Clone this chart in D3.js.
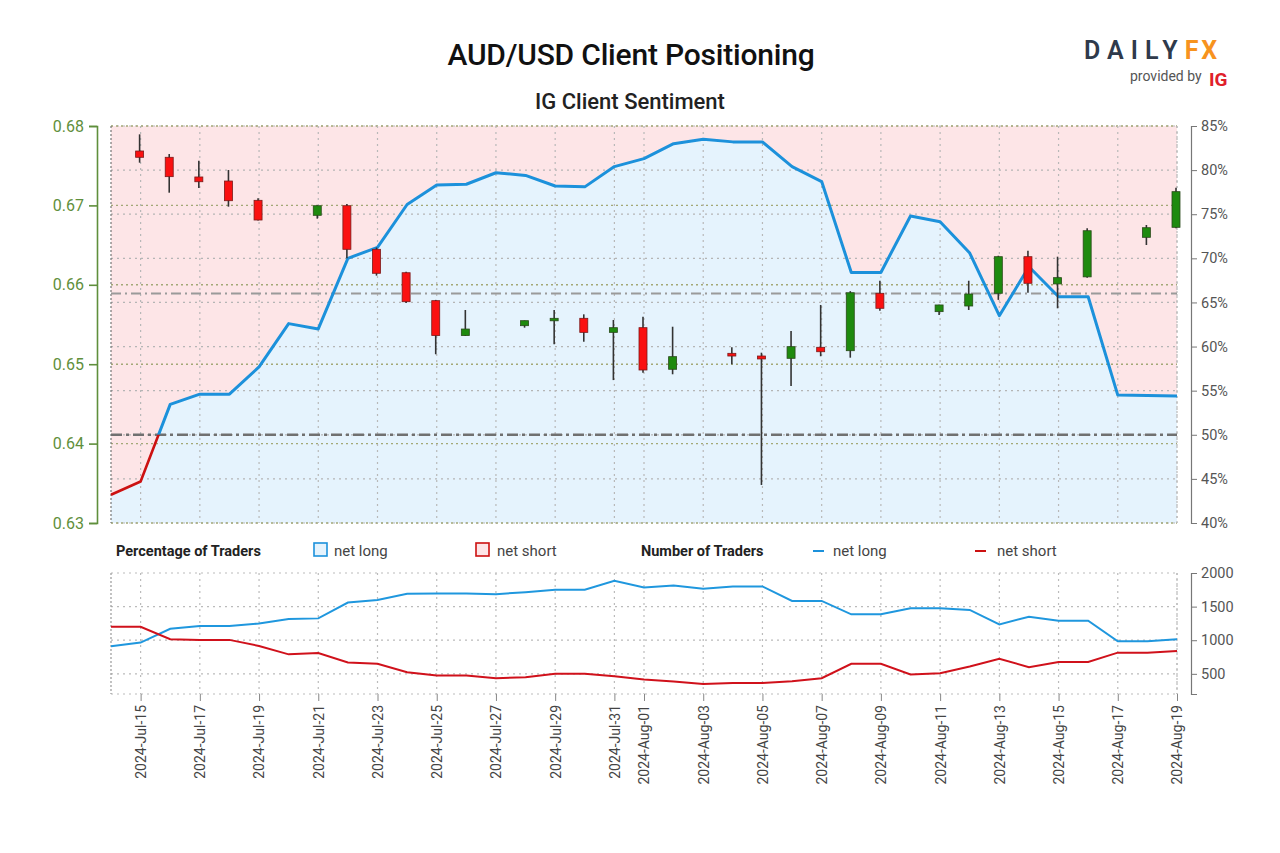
<!DOCTYPE html>
<html><head><meta charset="utf-8">
<script src="https://cdn.jsdelivr.net/npm/d3@7"></script>
<style>
html,body{margin:0;padding:0;background:#fff;}
svg{display:block;font-family:Roboto,"Open Sans",sans-serif;}
</style></head>
<body>
<svg id="chart" width="1280" height="853"></svg>
<script>
// ---------- DATA ----------
const sentimentDates = ["2024-07-14","2024-07-15","2024-07-16","2024-07-17","2024-07-18","2024-07-19","2024-07-20","2024-07-21","2024-07-22","2024-07-23","2024-07-24","2024-07-25","2024-07-26","2024-07-27","2024-07-28","2024-07-29","2024-07-30","2024-07-31","2024-08-01","2024-08-02","2024-08-03","2024-08-04","2024-08-05","2024-08-06","2024-08-07","2024-08-08","2024-08-09","2024-08-10","2024-08-11","2024-08-12","2024-08-13","2024-08-14","2024-08-15","2024-08-16","2024-08-17","2024-08-18","2024-08-19"];
const netLongPct = [43.2,44.7,53.45,54.6,54.6,57.7,62.6,62.0,70.0,71.25,76.1,78.3,78.4,79.7,79.4,78.2,78.1,80.4,81.3,83.0,83.5,83.2,83.2,80.4,78.7,68.4,68.4,74.8,74.15,70.6,63.5,69.05,65.65,65.65,54.5,54.45,54.4];
const netLongCount = [910,965,1170,1210,1210,1250,1315,1325,1560,1600,1690,1695,1695,1685,1715,1750,1750,1885,1785,1815,1765,1800,1800,1585,1585,1385,1385,1475,1475,1450,1235,1350,1290,1290,985,985,1015];
const netShortCount = [1200,1200,1015,1005,1005,915,790,810,670,650,525,475,475,435,450,500,500,465,415,385,350,365,365,390,435,650,650,490,510,610,725,600,675,675,815,815,840];

const candleDates = ["2024-07-15","2024-07-16","2024-07-17","2024-07-18","2024-07-19","2024-07-21","2024-07-22","2024-07-23","2024-07-24","2024-07-25","2024-07-26","2024-07-28","2024-07-29","2024-07-30","2024-07-31","2024-08-01","2024-08-02","2024-08-04","2024-08-05","2024-08-06","2024-08-07","2024-08-08","2024-08-09","2024-08-11","2024-08-12","2024-08-13","2024-08-14","2024-08-15","2024-08-16","2024-08-18","2024-08-19"];
const candleOpen  = [0.67685,0.67606,0.67358,0.67307,0.67064,0.66875,0.66996,0.66447,0.66152,0.65800,0.65361,0.65485,0.65548,0.65578,0.65401,0.65460,0.64936,0.65137,0.65103,0.65074,0.65213,0.65170,0.65893,0.65662,0.65733,0.65893,0.66354,0.66011,0.66100,0.66598,0.66724];
const candleHigh  = [0.67895,0.67647,0.67563,0.67446,0.67089,0.67000,0.67018,0.66470,0.66165,0.65810,0.65683,0.65550,0.65683,0.65628,0.65557,0.65598,0.65472,0.65213,0.65145,0.65418,0.65746,0.65920,0.66051,0.65750,0.66051,0.66366,0.66430,0.66354,0.66712,0.66753,0.67223];
const candleLow   = [0.67538,0.67160,0.67219,0.66984,0.66810,0.66833,0.66334,0.66115,0.65770,0.65125,0.65355,0.65460,0.65251,0.65283,0.64800,0.64893,0.64873,0.65000,0.63479,0.64725,0.65100,0.65082,0.65674,0.65620,0.65683,0.65810,0.65900,0.65704,0.66090,0.66501,0.66712];
const candleClose = [0.67606,0.67362,0.67298,0.67059,0.66816,0.66996,0.66447,0.66145,0.65787,0.65361,0.65443,0.65548,0.65578,0.65401,0.65460,0.64927,0.65095,0.65103,0.65066,0.65221,0.65157,0.65900,0.65704,0.65746,0.65884,0.66354,0.66019,0.66090,0.66681,0.66719,0.67173];

const priceTicks = [0.63,0.64,0.65,0.66,0.67,0.68];
const pctTicks = [40,45,50,55,60,65,70,75,80,85];
const countTicks = [500,1000,1500,2000];
const dateTicks = ["2024-07-15","2024-07-17","2024-07-19","2024-07-21","2024-07-23","2024-07-25","2024-07-27","2024-07-29","2024-07-31","2024-08-01","2024-08-03","2024-08-05","2024-08-07","2024-08-09","2024-08-11","2024-08-13","2024-08-15","2024-08-17","2024-08-19"];
const refPrice = 0.6589;   // light dash-dot reference
const neutralPct = 50;     // dark dash-dot line

// ---------- SETUP ----------
const parse = d3.utcParse("%Y-%m-%d");
const fmtDate = d3.utcFormat("%Y-%b-%d");
const svg = d3.select("#chart");

const L = 111, R = 1177, T = 126, B = 523;
const T2 = 573, B2 = 694;
const AXR = 1191;

const x = d3.scaleUtc().domain([parse("2024-07-14"), parse("2024-08-19")]).range([L, R]);
const yP = d3.scaleLinear().domain([0.63, 0.68]).range([B, T]);
const yPct = d3.scaleLinear().domain([40, 85]).range([B, T]);
const yN = d3.scaleLinear().domain([200, 2000]).range([B2, T2]);

const sent = sentimentDates.map((d,i)=>({date:parse(d), pct:netLongPct[i], nl:netLongCount[i], ns:netShortCount[i]}));
const candles = candleDates.map((d,i)=>({date:parse(d), o:candleOpen[i], h:candleHigh[i], l:candleLow[i], c:candleClose[i]}));

// ---------- TITLES ----------
svg.append("text").attr("x",631).attr("y",65).attr("text-anchor","middle")
  .attr("font-size",30).attr("font-weight",500).attr("fill","#111").attr("letter-spacing","-0.2")
  .text("AUD/USD Client Positioning");
svg.append("text").attr("x",630).attr("y",109).attr("text-anchor","middle")
  .attr("font-size",22).attr("font-weight",500).attr("fill","#222")
  .text("IG Client Sentiment");

// Logo
const logo = svg.append("g");
logo.append("text").attr("x",1084).attr("y",59).attr("font-size",25).attr("font-weight",600)
  .attr("letter-spacing","7").attr("fill","#2f3a4b").text("DAILY")
  .append("tspan").attr("fill","#f7931e").attr("font-weight",700).attr("letter-spacing","3").text("FX");
logo.append("text").attr("x",1130).attr("y",81).attr("font-size",14).attr("fill","#555").text("provided by");
logo.append("text").attr("x",1209).attr("y",86).attr("font-size",19).attr("font-weight",700).attr("fill","#e0202a").text("IG");

// ---------- MAIN PANEL ----------
const defs = svg.append("defs");
defs.append("clipPath").attr("id","clipMain").append("rect").attr("x",L).attr("y",T).attr("width",R-L).attr("height",B-T);
defs.append("clipPath").attr("id","clipAbove").append("rect").attr("x",L-5).attr("y",T-5).attr("width",R-L+10).attr("height",yPct(neutralPct)-T+5);
defs.append("clipPath").attr("id","clipBelow").append("rect").attr("x",L-5).attr("y",yPct(neutralPct)).attr("width",R-L+10).attr("height",B-yPct(neutralPct)+5);

const main = svg.append("g");
main.append("rect").attr("x",L).attr("y",T).attr("width",R-L).attr("height",B-T).attr("fill","#fde5e7");
main.append("path").datum(sent)
  .attr("d", d3.area().x(d=>x(d.date)).y0(B).y1(d=>yPct(d.pct)))
  .attr("fill","#e5f3fd").attr("clip-path","url(#clipMain)");

// grid
const grid = main.append("g");
pctTicks.forEach(v=>{
  grid.append("line").attr("x1",L).attr("x2",R).attr("y1",yPct(v)).attr("y2",yPct(v))
    .attr("stroke","#b5b5b5").attr("stroke-width",1.2).attr("stroke-dasharray","2,4");
});
priceTicks.forEach(v=>{
  grid.append("line").attr("x1",L).attr("x2",R).attr("y1",yP(v)).attr("y2",yP(v))
    .attr("stroke","#a3a877").attr("stroke-width",1.4).attr("stroke-dasharray","2,3");
});
dateTicks.forEach(d=>{
  grid.append("line").attr("x1",x(parse(d))).attr("x2",x(parse(d))).attr("y1",T).attr("y2",B)
    .attr("stroke","#b8b8b8").attr("stroke-width",1.2).attr("stroke-dasharray","2,4");
});
grid.append("line").attr("x1",L).attr("x2",L).attr("y1",T).attr("y2",B).attr("stroke","#777").attr("stroke-width",1.2).attr("stroke-dasharray","2,2");
grid.append("line").attr("x1",R).attr("x2",R).attr("y1",T).attr("y2",B).attr("stroke","#bbb").attr("stroke-width",1.2).attr("stroke-dasharray","2,3");

// reference lines
main.append("line").attr("x1",L).attr("x2",R).attr("y1",yP(refPrice)).attr("y2",yP(refPrice))
  .attr("stroke","#9a9a9a").attr("stroke-width",2).attr("stroke-dasharray","10,4,2,4");
main.append("line").attr("x1",L).attr("x2",R).attr("y1",yPct(neutralPct)).attr("y2",yPct(neutralPct))
  .attr("stroke","#707070").attr("stroke-width",2.6).attr("stroke-dasharray","11,4,3,4");

// sentiment line
const lineGen = d3.line().x(d=>x(d.date)).y(d=>yPct(d.pct));
main.append("path").datum(sent).attr("d",lineGen).attr("fill","none").attr("stroke","#1c91db")
  .attr("stroke-width",3).attr("stroke-linejoin","round").attr("clip-path","url(#clipAbove)");
main.append("path").datum(sent).attr("d",lineGen).attr("fill","none").attr("stroke","#cc1111")
  .attr("stroke-width",2.6).attr("stroke-linejoin","round").attr("clip-path","url(#clipBelow)");

// candles
const cg = main.append("g");
candles.forEach(c=>{
  const cx = x(c.date) - 1;
  const up = c.c >= c.o;
  cg.append("line").attr("x1",cx).attr("x2",cx).attr("y1",yP(c.h)).attr("y2",yP(c.l))
    .attr("stroke","#333").attr("stroke-width",1.6);
  const top = yP(Math.max(c.o,c.c)), bot = yP(Math.min(c.o,c.c));
  cg.append("rect").attr("x",cx-4).attr("y",top).attr("width",8).attr("height",Math.max(bot-top,2.5))
    .attr("fill", up ? "#1e8a0e" : "#fa1010").attr("stroke", up ? "#2a4a1a" : "#7a1a1a").attr("stroke-width",0.8);
});

// left axis (price)
const axL = svg.append("g").attr("transform",`translate(97,0)`)
  .call(d3.axisLeft(yP).tickValues(priceTicks).tickSize(8).tickPadding(5).tickFormat(d3.format(".2f")));
axL.select(".domain").attr("stroke","#5f8f3c").attr("stroke-width",1.6);
axL.selectAll(".tick line").attr("stroke","#5f8f3c").attr("stroke-width",1.6);
axL.selectAll(".tick text").attr("fill","#5f8f3c").attr("font-size",16).attr("font-family","Roboto");

// right axis (pct)
const axR = svg.append("g").attr("transform",`translate(${AXR},0)`)
  .call(d3.axisRight(yPct).tickValues(pctTicks).tickSize(6).tickPadding(4).tickFormat(d=>d+"%"));
axR.select(".domain").attr("stroke","#777").attr("stroke-width",1.2);
axR.selectAll(".tick line").attr("stroke","#777");
axR.selectAll(".tick text").attr("fill","#555").attr("font-size",14.5).attr("font-family","Roboto");

// ---------- LEGEND ----------
const lg = svg.append("g").attr("font-size",15).attr("fill","#333");
lg.append("text").attr("x",116).attr("y",556).attr("font-weight",700).attr("font-size",14.5).attr("fill","#222").text("Percentage of Traders");
lg.append("rect").attr("x",314).attr("y",543).attr("width",13).attr("height",13).attr("fill","#e5f3fd").attr("stroke","#1c91db").attr("stroke-width",1.6);
lg.append("text").attr("x",334).attr("y",556).attr("fill","#444").text("net long");
lg.append("rect").attr("x",476).attr("y",543).attr("width",13).attr("height",13).attr("fill","#fde5e7").attr("stroke","#cc1111").attr("stroke-width",1.6);
lg.append("text").attr("x",497).attr("y",556).attr("fill","#444").text("net short");
lg.append("text").attr("x",641).attr("y",556).attr("font-weight",700).attr("font-size",14.5).attr("fill","#222").text("Number of Traders");
lg.append("line").attr("x1",813).attr("x2",824).attr("y1",551).attr("y2",551).attr("stroke","#1c91db").attr("stroke-width",2);
lg.append("text").attr("x",833).attr("y",556).attr("fill","#444").text("net long");
lg.append("line").attr("x1",975).attr("x2",986).attr("y1",551).attr("y2",551).attr("stroke","#cc1111").attr("stroke-width",2);
lg.append("text").attr("x",997).attr("y",556).attr("fill","#444").text("net short");

// ---------- BOTTOM PANEL ----------
const bp = svg.append("g");
countTicks.forEach(v=>{
  bp.append("line").attr("x1",L).attr("x2",R).attr("y1",yN(v)).attr("y2",yN(v))
    .attr("stroke","#bbb").attr("stroke-width",1.2).attr("stroke-dasharray","2,4");
});
bp.append("line").attr("x1",L).attr("x2",R).attr("y1",B2).attr("y2",B2).attr("stroke","#bbb").attr("stroke-width",1.2).attr("stroke-dasharray","2,4");
dateTicks.forEach(d=>{
  bp.append("line").attr("x1",x(parse(d))).attr("x2",x(parse(d))).attr("y1",T2).attr("y2",B2)
    .attr("stroke","#bbb").attr("stroke-width",1.2).attr("stroke-dasharray","2,4");
});
bp.append("line").attr("x1",L).attr("x2",L).attr("y1",T2).attr("y2",B2).attr("stroke","#999").attr("stroke-width",1.2).attr("stroke-dasharray","2,2");
bp.append("line").attr("x1",R).attr("x2",R).attr("y1",T2).attr("y2",B2).attr("stroke","#bbb").attr("stroke-width",1.2).attr("stroke-dasharray","2,3");

bp.append("path").datum(sent).attr("d",d3.line().x(d=>x(d.date)).y(d=>yN(d.nl)))
  .attr("fill","none").attr("stroke","#1f97de").attr("stroke-width",2);
bp.append("path").datum(sent).attr("d",d3.line().x(d=>x(d.date)).y(d=>yN(d.ns)))
  .attr("fill","none").attr("stroke","#d0111b").attr("stroke-width",2);

const axR2 = svg.append("g").attr("transform",`translate(${AXR},0)`)
  .call(d3.axisRight(yN).tickValues(countTicks).tickSize(6).tickPadding(4).tickFormat(d3.format("d")));
axR2.select(".domain").attr("stroke","#777").attr("stroke-width",1.2);
axR2.selectAll(".tick line").attr("stroke","#777");
axR2.selectAll(".tick text").attr("fill","#555").attr("font-size",14.5).attr("font-family","Roboto");

// x axis
const axX = svg.append("g").attr("transform",`translate(0,${B2})`)
  .call(d3.axisBottom(x).tickValues(dateTicks.map(parse)).tickSize(7).tickFormat(fmtDate));
axX.select(".domain").remove();
axX.selectAll(".tick line").attr("stroke","#888");
axX.selectAll(".tick text").attr("fill","#444").attr("font-size",14).attr("font-family","Roboto")
  .attr("text-anchor","end").attr("transform","rotate(-90)").attr("x",-11).attr("y",0).attr("dy","0.35em");
</script>
</body></html>
